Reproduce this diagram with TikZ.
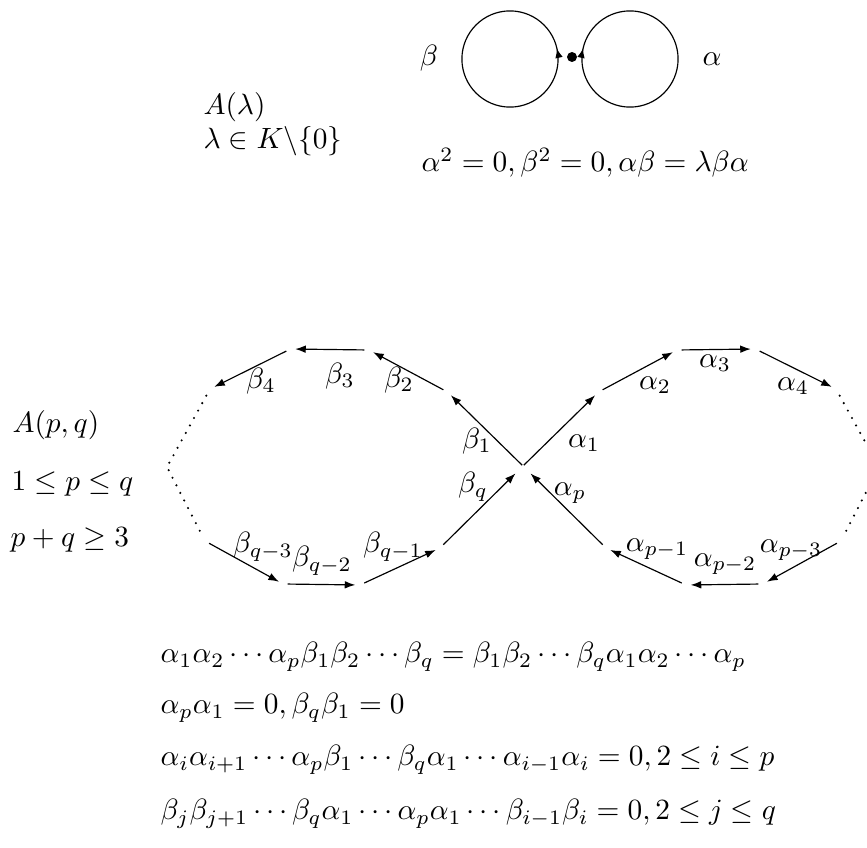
\documentclass[tikz,border=0pt]{standalone}
\usetikzlibrary{arrows.meta,decorations.markings}
\begin{document}
\begin{tikzpicture}[x=0.341pt,y=-0.341pt,
  lab/.style={inner sep=0pt},
  txt/.style={inner sep=0pt,anchor=base west},
  tip/.style={-{Latex[length=3.6pt,width=2.6pt]}},
  edge/.style={tip,shorten <=1.6pt,shorten >=1.6pt},
  outc/.style={tip,shorten <=0.4pt,shorten >=1.6pt},
  inc/.style={tip,shorten <=1.6pt,shorten >=3.6pt},
  dots/.style={line width=0.8pt,line cap=round,dash pattern=on 0pt off 2.9pt,shorten <=2.6pt,shorten >=1.4pt},
  upmark/.style={postaction={decorate},decoration={markings,mark=at position 0.035 with {\arrow{Latex[length=3.2pt,width=2.6pt]}}}}]
\useasboundingbox (0,0) rectangle (867,848);

% ---- top: A(lambda)
\coordinate (lc) at (510,59);
\coordinate (rc) at (630,59);
\node[circle,fill,inner sep=0pt,minimum size=3.4pt] (v) at (572,57) {};
\draw[upmark] ([xshift=16.4pt]lc) arc[start angle=0,end angle=360,radius=16.4pt];
\draw[upmark] ([xshift=-16.4pt]rc) arc[start angle=180,end angle=-180,radius=16.4pt];
\node[lab] (lb) at (429,58) {$\beta$};
\node[lab] (la) at (712,59) {$\alpha$};
\node[txt] (t1) at (203,115) {$A(\lambda)$};
\node[txt] (t2) at (203,149) {$\lambda\in K\backslash\{0\}$};
\node[txt] (t3) at (421,172) {$\alpha^2=0,\beta^2=0,\alpha\beta=\lambda\beta\alpha$};

% ---- A(p,q)
\node[txt] (s1) at (12,433) {$A(p,q)$};
\node[txt] (s2) at (11,491) {$1\le p\le q$};
\node[txt] (s3) at (10,547) {$p+q\ge 3$};

\coordinate (C) at (523,466);
\coordinate (L1) at (447.5,392);
\coordinate (L2) at (369,350);
\coordinate (L3) at (290.5,349);
\coordinate (L4) at (210,389);
\coordinate (L5) at (167,467);
\coordinate (L6) at (205,541);
\coordinate (L7) at (283,584);
\coordinate (L8) at (360,585);
\coordinate (L9) at (440,548);
\coordinate (R1) at (598.5,392);
\coordinate (R2) at (677,350);
\coordinate (R3) at (755.5,349);
\coordinate (R4) at (836,389);
\coordinate (R5) at (879,467);
\coordinate (R6) at (841,541);
\coordinate (R7) at (763,584);
\coordinate (R8) at (686,585);
\coordinate (R9) at (606,548);

\draw[outc] (C) -- (L1);
\draw[edge] (L1) -- (L2);
\draw[edge] (L2) -- (L3);
\draw[edge] (L3) -- (L4);
\draw[dots] (L4) -- (L5) -- (L6);
\draw[edge] (L6) -- (L7);
\draw[edge] (L7) -- (L8);
\draw[edge] (L8) -- (L9);
\draw[inc] (L9) -- (C);

\draw[outc] (C) -- (R1);
\draw[edge] (R1) -- (R2);
\draw[edge] (R2) -- (R3);
\draw[edge] (R3) -- (R4);
\draw[dots] (R4) -- (R5) -- (R6);
\draw[edge] (R6) -- (R7);
\draw[edge] (R7) -- (R8);
\draw[edge] (R8) -- (R9);
\draw[inc] (R9) -- (C);

\node[lab] (b1) at (477,441) {$\beta_1$};
\node[lab] (b2) at (399,380) {$\beta_2$};
\node[lab] (b3) at (340,376) {$\beta_3$};
\node[lab] (b4) at (261,381) {$\beta_4$};
\node[lab] (bq) at (473,487) {$\beta_q$};
\node[lab] (bq1) at (393,547) {$\beta_{q-1}$};
\node[lab] (bq2) at (322,561) {$\beta_{q-2}$};
\node[lab] (bq3) at (263,547) {$\beta_{q-3}$};
\node[lab] (a1) at (584,443) {$\alpha_1$};
\node[lab] (a2) at (655,385) {$\alpha_2$};
\node[lab] (a3) at (715,363) {$\alpha_3$};
\node[lab] (a4) at (793,386) {$\alpha_4$};
\node[lab] (ap) at (570,493) {$\alpha_p$};
\node[lab] (ap1) at (657,549) {$\alpha_{p-1}$};
\node[lab] (ap2) at (725,564) {$\alpha_{p-2}$};
\node[lab] (ap3) at (791,550) {$\alpha_{p-3}$};

% ---- relations
\node[txt] (e1) at (160,663) {$\alpha_1\alpha_2\cdots\alpha_p\beta_1\beta_2\cdots\beta_q=\beta_1\beta_2\cdots\beta_q\alpha_1\alpha_2\cdots\alpha_p$};
\node[txt] (e2) at (160,714) {$\alpha_p\alpha_1=0,\beta_q\beta_1=0$};
\node[txt] (e3) at (160,766) {$\alpha_i\alpha_{i+1}\cdots\alpha_p\beta_1\cdots\beta_q\alpha_1\cdots\alpha_{i-1}\alpha_i=0,2\le i\le p$};
\node[txt] (e4) at (160,820) {$\beta_j\beta_{j+1}\cdots\beta_q\alpha_1\cdots\alpha_p\alpha_1\cdots\beta_{i-1}\beta_i=0,2\le j\le q$};
\end{tikzpicture}
\end{document}
